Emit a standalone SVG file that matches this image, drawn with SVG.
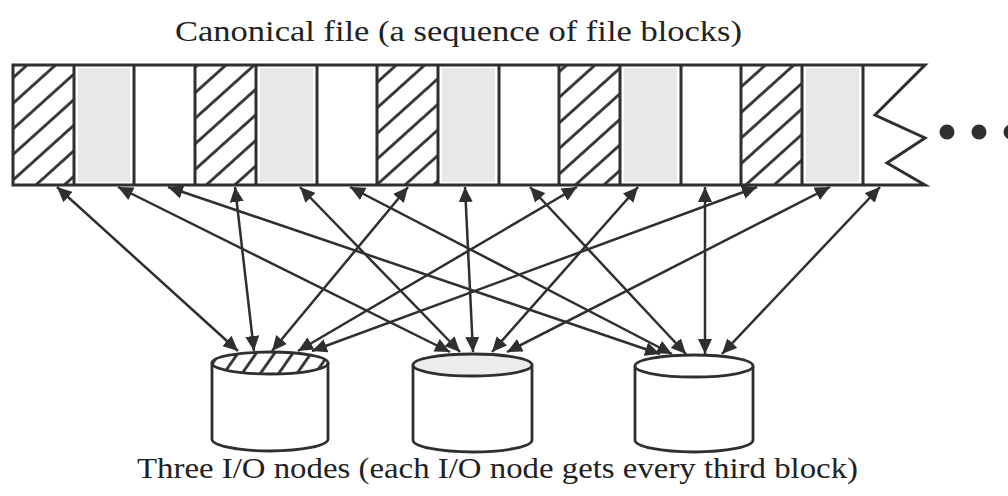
<svg xmlns="http://www.w3.org/2000/svg" width="1008" height="496" viewBox="0 0 1008 496">
  <style>
    .lbl { font-family: "Liberation Serif", "DejaVu Serif", serif; font-size: 29px; fill: #222; }
    .wall { stroke: #2f2f2f; stroke-width: 3; fill: none; }
    .gray { fill: #e8e8e8; }
    .hatched { fill: url(#hatch); }
    .cyl { fill: #fff; stroke: #2f2f2f; stroke-width: 2.8; }
    .conn { stroke: #2f2f2f; stroke-width: 2.5; fill: none; marker-start: url(#tip); marker-end: url(#tip); }
  </style>
  <defs>
    <pattern id="hatch" patternUnits="userSpaceOnUse" width="12" height="19" patternTransform="rotate(-42)">
      <line x1="-2" y1="9.5" x2="14" y2="9.5" stroke="#2f2f2f" stroke-width="2.8"/>
    </pattern>
    <pattern id="hatchSteep" patternUnits="userSpaceOnUse" width="12" height="15" patternTransform="rotate(-55)">
      <line x1="-2" y1="7.5" x2="14" y2="7.5" stroke="#2f2f2f" stroke-width="2.8"/>
    </pattern>
    <marker id="tip" markerUnits="userSpaceOnUse" markerWidth="16" markerHeight="14" refX="15" refY="7" orient="auto-start-reverse">
      <path d="M0,0 L15,7 L0,14 z" fill="#2f2f2f"/>
    </marker>
  </defs>

  <text class="lbl" x="175" y="41" textLength="567" lengthAdjust="spacingAndGlyphs">Canonical file (a sequence of file blocks)</text>

  <!-- the file as a strip of blocks -->
  <g id="file">
    <!-- blocks owned by node 1 -->
    <rect class="hatched" x="13" y="65" width="61" height="120"/>
    <rect class="hatched" x="195" y="65" width="61" height="120"/>
    <rect class="hatched" x="377" y="65" width="61" height="120"/>
    <rect class="hatched" x="559" y="65" width="61" height="120"/>
    <rect class="hatched" x="741" y="65" width="61" height="120"/>
    <!-- blocks owned by node 2 -->
    <rect class="gray" x="78" y="68" width="52" height="114"/>
    <rect class="gray" x="260" y="68" width="53" height="114"/>
    <rect class="gray" x="442" y="68" width="53" height="114"/>
    <rect class="gray" x="624" y="68" width="53" height="114"/>
    <rect class="gray" x="806" y="68" width="53" height="114"/>
    <!-- outline with torn right end -->
    <path class="wall" d="M13,65 L925,65 L875,115 L925,138 L887,163 L925,185 L13,185 Z"/>
    <!-- block dividers -->
    <path class="wall" d="M74,65V185 M134,65V185 M195,65V185 M256,65V185 M317,65V185 M377,65V185 M438,65V185 M499,65V185 M559,65V185 M620,65V185 M681,65V185 M741,65V185 M802,65V185 M863,65V185"/>
    <circle cx="947" cy="132" r="7.5" fill="#2f2f2f"/>
    <circle cx="979" cy="132" r="7.5" fill="#2f2f2f"/>
    <circle cx="1011" cy="132" r="7.5" fill="#2f2f2f"/>
  </g>

  <!-- I/O nodes -->
  <g id="node1">
    <path class="cyl" d="M212,363 L212,439 A58,12 0 0 0 328,439 L328,363"/>
    <ellipse cx="270" cy="363" rx="58" ry="11" fill="url(#hatchSteep)" stroke="#2f2f2f" stroke-width="2.8"/>
  </g>
  <g id="node2">
    <path class="cyl" d="M413,365 L413,440 A59.5,12 0 0 0 532,440 L532,365"/>
    <ellipse cx="472.5" cy="365" rx="59.5" ry="11" fill="#ececec" stroke="#2f2f2f" stroke-width="2.8"/>
  </g>
  <g id="node3">
    <path class="cyl" d="M635,366 L635,440 A59,12 0 0 0 753,440 L753,366"/>
    <ellipse cx="694" cy="366" rx="59" ry="11" fill="#fff" stroke="#2f2f2f" stroke-width="2.8"/>
  </g>

  <!-- block-to-node transfers -->
  <g id="connectors">
    <line class="conn" x1="57" y1="187" x2="238" y2="351"/>
    <line class="conn" x1="118" y1="187" x2="450" y2="352"/>
    <line class="conn" x1="168" y1="187" x2="660" y2="354"/>
    <line class="conn" x1="235" y1="187" x2="254" y2="351"/>
    <line class="conn" x1="300" y1="187" x2="460" y2="352"/>
    <line class="conn" x1="350" y1="187" x2="672" y2="354"/>
    <line class="conn" x1="408" y1="187" x2="272" y2="351"/>
    <line class="conn" x1="465" y1="187" x2="473" y2="352"/>
    <line class="conn" x1="530" y1="187" x2="686" y2="354"/>
    <line class="conn" x1="577" y1="187" x2="298" y2="351"/>
    <line class="conn" x1="638" y1="187" x2="492" y2="352"/>
    <line class="conn" x1="705" y1="187" x2="705" y2="354"/>
    <line class="conn" x1="757" y1="187" x2="312" y2="351"/>
    <line class="conn" x1="830" y1="187" x2="507" y2="352"/>
    <line class="conn" x1="880" y1="187" x2="722" y2="354"/>
  </g>

  <text class="lbl" x="137" y="478" textLength="721" lengthAdjust="spacingAndGlyphs">Three I/O nodes (each I/O node gets every third block)</text>
</svg>
